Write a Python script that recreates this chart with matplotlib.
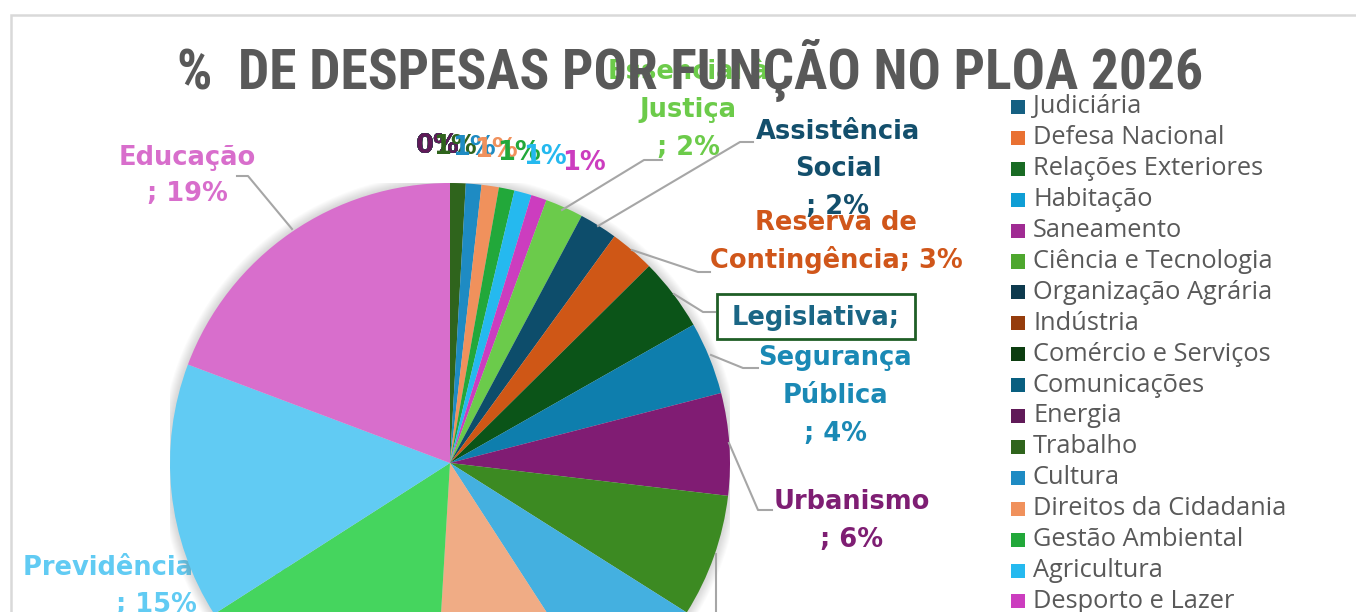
import matplotlib
matplotlib.use("Agg")
import matplotlib.pyplot as plt
from matplotlib.patches import Rectangle, Circle
from matplotlib.lines import Line2D
from matplotlib import font_manager

# ---------------- data ----------------
categories = [
    "Judiciária", "Defesa Nacional", "Relações Exteriores", "Habitação",
    "Saneamento", "Ciência e Tecnologia", "Organização Agrária", "Indústria",
    "Comércio e Serviços", "Comunicações", "Energia", "Trabalho", "Cultura",
    "Direitos da Cidadania", "Gestão Ambiental", "Agricultura",
    "Desporto e Lazer", "Essencial à Justiça", "Assistência Social",
    "Reserva de Contingência", "Legislativa", "Segurança Pública",
    "Urbanismo", "Transporte", "Administração", "Saúde",
    "Encargos Especiais", "Previdência Social", "Educação",
]
values = [
    0, 0, 0, 0,
    0, 0, 0, 0,
    0, 0, 0, 0.9, 0.9,
    1.0, 0.9, 1.0,
    0.9, 2.2, 2.2,
    2.6, 4.2, 4.2,
    5.9, 7.1, 6.9, 10.1,
    15.0, 14.8, 19.3,
]
colors = [
    "#156082", "#E97132", "#196B24", "#0F9ED5",
    "#A02B93", "#4EA72E", "#0D3A4E", "#953C0C",
    "#0C3D10", "#095F80", "#601A58", "#2F641C", "#1E8BC3",
    "#F0915C", "#22A83A", "#25B9EF",
    "#CC3DBF", "#6BCB4B", "#0D4D6B",
    "#CF5716", "#0B5418", "#0E7EAD",
    "#801C73", "#3C8A22", "#44B0E0", "#F0AC85",
    "#45D55E", "#61CBF3", "#D86ECC",
]
title = "%  DE DESPESAS POR FUNÇÃO NO PLOA 2026"

# ---------------- layout ----------------
W, H = 1356, 612
fig = plt.figure(figsize=(W / 100, H / 100), dpi=100)
fig.patch.set_facecolor("white")


def F(x, y):
    return (x / W, 1 - y / H)


# chart frame (extends past right/bottom edges)
fig.patches.append(Rectangle(F(11, H + 20), (W + 20 - 11) / W, (H + 20 - 15) / H,
                             transform=fig.transFigure, fill=False,
                             edgecolor="#D9D9D9", linewidth=1.8, zorder=0))

cx, cy, R = 450, 463, 280
ax = fig.add_axes([(cx - R) / W, (H - cy - R) / H, 2 * R / W, 2 * R / H])
# soft shadow
for i in range(10):
    ax.add_patch(Circle((0, 0), 1 + 0.0035 * (i + 1), facecolor="#808080",
                        alpha=0.03, edgecolor="none", zorder=0.8))
wedges, _ = ax.pie(values, colors=colors, startangle=90, counterclock=False,
                   radius=1, wedgeprops=dict(linewidth=0, zorder=1))
for w in wedges:
    w.set_zorder(1)
ax.set_xlim(-1, 1)
ax.set_ylim(-1, 1)
ax.set_aspect("equal")
ax.axis("off")

# fonts
label_font = "DejaVu Sans"
legend_font = ["Open Sans", "DejaVu Sans"]
title_font = None
title_size = 30
for fam, size in [("Liberation Sans Narrow", 42), ("Roboto Condensed", 40)]:
    try:
        font_manager.findfont(font_manager.FontProperties(family=fam, weight="bold"),
                              fallback_to_default=False)
        title_font = fam
        title_size = size
        break
    except Exception:
        pass
if title_font is None:
    title_font = "DejaVu Sans"
    title_size = 29

fig.text(*F(690, 70), title, ha="center", va="center", fontsize=title_size,
         fontweight="bold", color="#595959", family=title_font, zorder=5)

lab_size = 18.5


def pct(v):
    return f"{round(v):.0f}%"


def idx(name):
    return categories.index(name)


def label_block(lines, x, y0, pitch, color, z=3):
    for k, s in enumerate(lines):
        fig.text(*F(x, y0 + k * pitch), s, ha="center", va="center",
                 fontsize=lab_size, fontweight="bold", color=color,
                 family=label_font, zorder=z)


def leader(pts, z=2):
    xs = [p[0] / W for p in pts]
    ys = [1 - p[1] / H for p in pts]
    fig.add_artist(Line2D(xs, ys, transform=fig.transFigure, color="#A6A6A6",
                          linewidth=1.5, zorder=z))


# Educação
i = idx("Educação")
label_block(["Educação", "; " + pct(values[i])], 187, 158, 36, "#D86ECC")
leader([(237, 176), (248, 176), (292, 229)])

# Essencial à Justiça
i = idx("Essencial à Justiça")
label_block(["Essencial à", "Justiça", "; " + pct(values[i])], 688, 72, 38, "#6CCB4A")
leader([(662, 160), (644, 160), (562, 210)])

# Assistência Social
i = idx("Assistência Social")
label_block(["Assistência", "Social", "; " + pct(values[i])], 838, 132, 37.5, "#134F6C")
leader([(753, 142), (740, 142), (598, 226)])

# Reserva de Contingência
i = idx("Reserva de Contingência")
label_block(["Reserva de", "Contingência; " + pct(values[i])], 836, 223, 37, "#D0561A")
leader([(710, 272), (698, 272), (632, 250)])

# Legislativa (clipped box)
fig.patches.append(Rectangle(F(717, 339), (915 - 717) / W, (339 - 294) / H,
                             transform=fig.transFigure, facecolor="white",
                             edgecolor="#1F5E26", linewidth=2, zorder=2.5))
label_block(["Legislativa;"], 816, 318, 38, "#1A6685")
leader([(715, 312), (703, 312), (674, 294)])

# Segurança Pública
i = idx("Segurança Pública")
label_block(["Segurança", "Pública", "; " + pct(values[i])], 835, 358, 38, "#1A89B5")
leader([(758, 368), (743, 368), (711, 355)])

# Urbanismo
i = idx("Urbanismo")
label_block(["Urbanismo", "; " + pct(values[i])], 852, 502, 38, "#7E1E73")
leader([(772, 510), (758, 510), (729, 443)])

# Transporte leader going off the bottom
leader([(716, 554), (716, 650)])

# Previdência Social (partly hidden behind the pie)
i = idx("Previdência Social")
for k, s in enumerate(["Previdência Social", "; " + pct(values[i])]):
    ax.text(*F(156, 568 + k * 37), s, transform=fig.transFigure, ha="center",
            va="center", fontsize=lab_size, fontweight="bold", color="#61CBF3",
            family=label_font, zorder=0.5)

# small labels crowded at the top
small_pos = {
    "Cultura": (474, 148), "Direitos da Cidadania": (496, 150),
    "Gestão Ambiental": (519, 153), "Agricultura": (545, 157),
    "Desporto e Lazer": (584, 163), "Trabalho": (455, 147),
}
for j, (name, v) in enumerate(zip(categories, values)):
    if v == 0:
        pos = (438, 146)
    elif name in small_pos:
        pos = small_pos[name]
    else:
        continue
    fig.text(*F(*pos), pct(v), ha="center", va="center", fontsize=lab_size,
             fontweight="bold", color=colors[j], family=label_font, zorder=3)

# legend (continues past the bottom edge)
for j, (name, c) in enumerate(zip(categories, colors)):
    y = 107 + j * 30.9
    fig.patches.append(Rectangle(F(1011, y + 7), 14 / W, 14 / H,
                                 transform=fig.transFigure, facecolor=c,
                                 edgecolor="none", zorder=3))
    fig.text(*F(1033, y), name, ha="left", va="center", fontsize=18.3,
             color="#595959", family=legend_font, zorder=3)

fig.savefig("out.png", dpi=100)
